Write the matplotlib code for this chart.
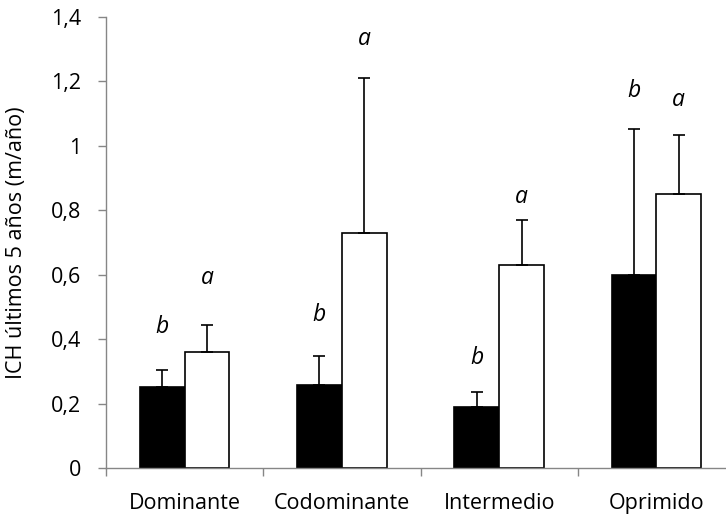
import numpy as np
import matplotlib.pyplot as plt

plt.rcParams['font.family'] = ['Open Sans', 'DejaVu Sans']

categories = ["Dominante", "Codominante", "Intermedio", "Oprimido"]
black_vals = [0.251, 0.258, 0.188, 0.598]
black_err = [0.053, 0.090, 0.048, 0.453]
white_vals = [0.361, 0.730, 0.629, 0.852]
white_err = [0.084, 0.480, 0.142, 0.181]
black_letters = ["b", "b", "b", "b"]
white_letters = ["a", "a", "a", "a"]
black_letter_y = [0.439, 0.476, 0.342, 1.170]
white_letter_y = [0.591, 1.333, 0.840, 1.142]
y_ticks = [0, 0.2, 0.4, 0.6, 0.8, 1.0, 1.2, 1.4]

FS = 15.5
W, H = 726, 517
fig = plt.figure(figsize=(W / 100, H / 100), dpi=100)
# axes spans past the right edge like the original
ax = fig.add_axes([106 / W, (H - 468) / H, (735 - 106) / W, (468 - 17) / H])

x = np.arange(len(categories))
bw = 0.285
err_kw = dict(ecolor="black", elinewidth=1.2, capsize=4, capthick=1.2)
ax.bar(x - bw / 2, black_vals, bw, color="black", edgecolor="black", linewidth=1.2,
       yerr=[np.zeros(4), black_err], error_kw=err_kw, zorder=2)
ax.bar(x + bw / 2, white_vals, bw, color="white", edgecolor="black", linewidth=1.2,
       yerr=[np.zeros(4), white_err], error_kw=err_kw, zorder=2)

for i in range(len(categories)):
    ax.text(x[i] - bw / 2, black_letter_y[i], black_letters[i], style="italic",
            ha="center", va="center", fontsize=FS + 1)
    ax.text(x[i] + bw / 2, white_letter_y[i], white_letters[i], style="italic",
            ha="center", va="center", fontsize=FS + 1)

ax.set_xlim(-0.5, len(categories) - 0.5)
ax.set_ylim(0, 1.4)
ax.set_yticks(y_ticks)
ax.set_yticklabels([("%g" % v).replace(".", ",") for v in y_ticks])
ax.set_xticks(x)
ax.set_xticklabels(categories)
ax.set_xticks(np.arange(len(categories) + 1) - 0.5, minor=True)

gray = "#868686"
for side in ["top", "right"]:
    ax.spines[side].set_visible(False)
for side in ["left", "bottom"]:
    ax.spines[side].set_color(gray)
    ax.spines[side].set_linewidth(1.0)

ax.tick_params(axis="y", direction="out", length=6, width=1.0, color=gray,
               labelsize=FS, pad=12)
ax.tick_params(axis="x", which="major", length=0, labelsize=FS, pad=18)
ax.tick_params(axis="x", which="minor", direction="out", length=6, width=1.0, color=gray)

ax.set_ylabel("ICH últimos 5 años (m/año)", fontsize=FS)
ax.yaxis.set_label_coords(-(106 - 27) / (735 - 106), 0.5)

fig.savefig("out.png", dpi=100)
